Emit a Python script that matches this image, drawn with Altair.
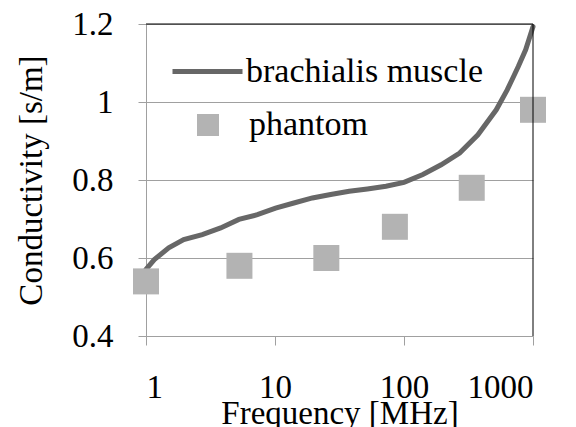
import altair as alt
import pandas as pd

# brachialis muscle curve
muscle_freq = [1, 1.16, 1.5, 1.96, 2.73, 3.79, 5.25, 7.3, 10.1, 14, 19.5, 27, 37.6, 52,
               72.5, 100, 140, 194, 270, 374, 519, 631, 769, 877, 1000]
muscle_cond = [0.571, 0.596, 0.626, 0.647, 0.66, 0.677, 0.699, 0.711, 0.728, 0.741, 0.754,
               0.763, 0.771, 0.777, 0.784, 0.794, 0.814, 0.839, 0.869, 0.916, 0.98, 1.031,
               1.091, 1.134, 1.193]

# phantom measurements
phantom_freq = [1, 5.3, 25, 85, 335, 1000]
phantom_cond = [0.54, 0.58, 0.60, 0.68, 0.78, 0.98]

x_ticks = [1, 10, 100, 1000]
y_ticks = [0.4, 0.6, 0.8, 1.0, 1.2]

W, H = 387, 312
FONT = "Liberation Serif"
FS = 33
LFS = 34
AXIS_GRAY = "#a0a0a0"

muscle = pd.DataFrame({"f": muscle_freq, "c": muscle_cond, "series": "brachialis muscle"})
phantom = pd.DataFrame({"f": phantom_freq, "c": phantom_cond, "series": "phantom"})

x_enc = alt.X(
    "f:Q",
    scale=alt.Scale(type="log", domain=[1, 1000], nice=False),
    axis=alt.Axis(
        values=x_ticks, format="~g", grid=False, tickSize=9, labelPadding=26,
        labelFont=FONT, labelFontSize=FS, titleFont=FONT, titleFontSize=FS,
        title="Frequency [MHz]", titleY=87, titleBaseline="alphabetic",
    ),
)
y_enc = alt.Y(
    "c:Q",
    scale=alt.Scale(domain=[0.4, 1.2], nice=False, zero=False),
    axis=alt.Axis(
        values=y_ticks, format="~g", grid=True, tickSize=8, labelPadding=25,
        labelFont=FONT, labelFontSize=FS, titleFont=FONT, titleFontSize=FS,
        title="Conductivity [s/m]", titleAngle=270, titleBaseline="alphabetic",
        titleX=-105,
    ),
)

line = alt.Chart(muscle).mark_line(strokeWidth=5, strokeCap="round").encode(
    x=x_enc,
    y=y_enc,
    stroke=alt.Stroke(
        "series:N",
        scale=alt.Scale(range=["#676767"]),
        legend=alt.Legend(
            title=None, orient="none", legendX=24, legendY=10, padding=0,
            symbolType="stroke", symbolSize=4900, symbolStrokeWidth=5,
            labelOffset=1, labelFont=FONT, labelFontSize=LFS, labelColor="black",
            labelLimit=400,
        ),
    ),
)

squares = alt.Chart(phantom).mark_square(size=676, opacity=1).encode(
    x=alt.X("f:Q"),
    y=alt.Y("c:Q"),
    fill=alt.Fill(
        "series:N",
        scale=alt.Scale(range=["#b3b3b3"]),
        legend=alt.Legend(
            title=None, orient="none", legendX=45, legendY=84, padding=0,
            symbolType="square", symbolSize=484, symbolStrokeWidth=0,
            labelOffset=24, labelFont=FONT, labelFontSize=LFS, labelColor="black",
            labelLimit=400,
        ),
    ),
)

top_border = alt.Chart().mark_rule(color="black", strokeWidth=1).encode(
    x=alt.value(0), x2=alt.value(W), y=alt.value(0)
)
right_border = alt.Chart().mark_rule(color="black", strokeWidth=1).encode(
    x=alt.value(W), y=alt.value(0), y2=alt.value(H)
)

chart = alt.layer(line, squares, top_border, right_border).properties(
    width=W,
    height=H,
    autosize=alt.AutoSizeParams(type="none"),
    padding={"left": 138, "top": 16, "right": 35, "bottom": 100},
).configure(font=FONT).configure_view(stroke=None).configure_axis(
    labelFont=FONT, labelFontSize=FS, labelColor="black",
    titleFont=FONT, titleFontSize=FS, titleColor="black", titleFontWeight="normal",
    domainColor=AXIS_GRAY, tickColor=AXIS_GRAY, gridColor=AXIS_GRAY,
    domainWidth=1, tickWidth=1, gridWidth=1,
).configure_legend(labelFont=FONT)

chart.save("out.html", embed_options={"renderer": "svg", "actions": False})
